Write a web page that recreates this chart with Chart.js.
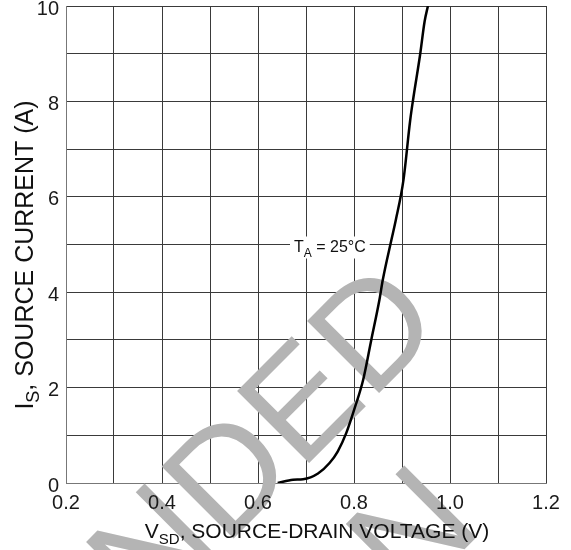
<!DOCTYPE html>
<html>
<head>
<meta charset="utf-8">
<script src="https://cdn.jsdelivr.net/npm/chart.js@4.4.1/dist/chart.umd.min.js"></script>
<style>
  body { margin: 0; background: #fff; }
  #wrap { width: 571px; height: 550px; }
</style>
</head>
<body>
<div id="wrap"><canvas id="myChart" width="571" height="550"></canvas></div>
<script>
/* data */
const vsd  = [0.641, 0.673, 0.694, 0.725, 0.749, 0.766, 0.784, 0.803, 0.819, 0.836, 0.853, 0.860, 0.878, 0.887, 0.903, 0.917, 0.923, 0.938, 0.947, 0.954];
const isrc = [0, 0.07, 0.08, 0.2, 0.42, 0.66, 1.05, 1.62, 2.16, 3.0, 3.84, 4.26, 5.1, 5.51, 6.35, 7.6, 8.03, 9.0, 9.67, 10];

const xTickLabels = ['0.2', '0.4', '0.6', '0.8', '1.0', '1.2'];
const yTickLabels = ['0', '2', '4', '6', '8', '10'];

/* texts with a subscript part: [main, sub, rest] */
const xTitle = ['V', 'SD', ', SOURCE-DRAIN VOLTAGE (V)'];
const yTitle = ['I', 'S', ', SOURCE CURRENT (A)'];
const noteText = ['T', 'A', ' = 25°C'];
const noteAt = [0.675, 5];

const watermark = ['NOT RECOMMENDED', 'FOR NEW DESIGN'];

const FONT = '"Liberation Sans", Arial, Helvetica, sans-serif';

// draws "main + subscript + rest" centred (or left) at x, baseline y
function drawSub(ctx, parts, x, y, size, subSize, subDrop, align) {
  ctx.font = size + 'px ' + FONT;
  const w0 = ctx.measureText(parts[0]).width;
  const w2 = ctx.measureText(parts[2]).width;
  ctx.font = subSize + 'px ' + FONT;
  const w1 = ctx.measureText(parts[1]).width;
  const total = w0 + w1 + w2;
  let sx = align === 'left' ? x : x - total / 2;
  ctx.textAlign = 'left';
  ctx.textBaseline = 'alphabetic';
  ctx.font = size + 'px ' + FONT;
  ctx.fillText(parts[0], sx, y);
  ctx.font = subSize + 'px ' + FONT;
  ctx.fillText(parts[1], sx + w0, y + subDrop);
  ctx.font = size + 'px ' + FONT;
  ctx.fillText(parts[2], sx + w0 + w1, y);
  return total;
}

/* watermark: over the grid, under the curve and labels */
const watermarkPlugin = {
  id: 'watermark',
  beforeDatasetsDraw(chart) {
    const ctx = chart.ctx;
    ctx.save();
    ctx.fillStyle = 'rgb(180,180,180)';
    ctx.font = '148px ' + FONT;
    ctx.textAlign = 'right';
    ctx.textBaseline = 'alphabetic';
    ctx.translate(446, 326);
    ctx.rotate(-Math.PI / 4);
    ctx.fillText(watermark[0], 0, 0);
    ctx.fillText(watermark[1], -116, 171);
    ctx.restore();

    // T_A note with white box
    const xs = chart.scales.x, ys = chart.scales.y;
    const px = xs.getPixelForValue(noteAt[0]);
    const py = ys.getPixelForValue(noteAt[1]);
    ctx.save();
    ctx.font = '16px ' + FONT;
    const w = ctx.measureText(noteText[0]).width + ctx.measureText(noteText[2]).width;
    ctx.font = '12px ' + FONT;
    const wt = w + ctx.measureText(noteText[1]).width;
    ctx.fillStyle = '#fff';
    ctx.fillRect(px - 4, py - 8, wt + 8, 22);
    ctx.fillStyle = '#111';
    drawSub(ctx, noteText, px, py + 7, 16, 12, 5, 'left');
    ctx.restore();
  },
  afterDraw(chart) {
    const ctx = chart.ctx;
    ctx.save();
    ctx.fillStyle = '#111';
    drawSub(ctx, xTitle, 317, 538, 21, 15, 6, 'center');
    ctx.translate(33, 255);
    ctx.rotate(-Math.PI / 2);
    drawSub(ctx, yTitle, 0, 0, 25, 18, 6, 'center');
    ctx.restore();
  }
};

const ctx = document.getElementById('myChart');

const myChart = new Chart(ctx, {
  type: 'scatter',
  data: {
    datasets: [{
      label: 'TA = 25°C',
      data: vsd.map((v, i) => ({ x: v, y: isrc[i] })),
      showLine: true,
      borderColor: '#000',
      borderWidth: 2.5,
      pointRadius: 0,
      cubicInterpolationMode: 'monotone'
    }]
  },
  options: {
    responsive: false,
    animation: false,
    devicePixelRatio: 1,
    layout: { padding: { left: 0, right: 25, top: 6, bottom: 0 } },
    plugins: {
      legend: { display: false },
      tooltip: { enabled: false }
    },
    scales: {
      x: {
        type: 'linear',
        min: 0.2,
        max: 1.2,
        afterFit: (s) => { s.height = 67; s.paddingLeft = 0; s.paddingRight = 0; },
        grid: { color: '#3a3a3a', lineWidth: 1, drawTicks: false },
        border: { color: '#777' },
        ticks: {
          stepSize: 0.1,
          autoSkip: false,
          maxRotation: 0,
          padding: 8,
          z: 1,
          color: '#1a1a1a',
          font: { size: 20, family: FONT },
          callback: (v) => {
            const idx = Math.round((v - 0.2) * 10);
            return idx % 2 === 0 ? xTickLabels[idx / 2] : '';
          }
        }
      },
      y: {
        min: 0,
        max: 10,
        afterFit: (s) => { s.width = 66; s.paddingTop = 0; s.paddingBottom = 0; },
        grid: { color: '#3a3a3a', lineWidth: 1, drawTicks: false },
        border: { color: '#777' },
        ticks: {
          stepSize: 1,
          autoSkip: false,
          padding: 7,
          labelOffset: 3,
          z: 1,
          color: '#1a1a1a',
          font: { size: 20, family: FONT },
          callback: (v) => {
            const idx = Math.round(v);
            return idx % 2 === 0 ? yTickLabels[idx / 2] : '';
          }
        }
      }
    }
  },
  plugins: [watermarkPlugin]
});
</script>
</body>
</html>
